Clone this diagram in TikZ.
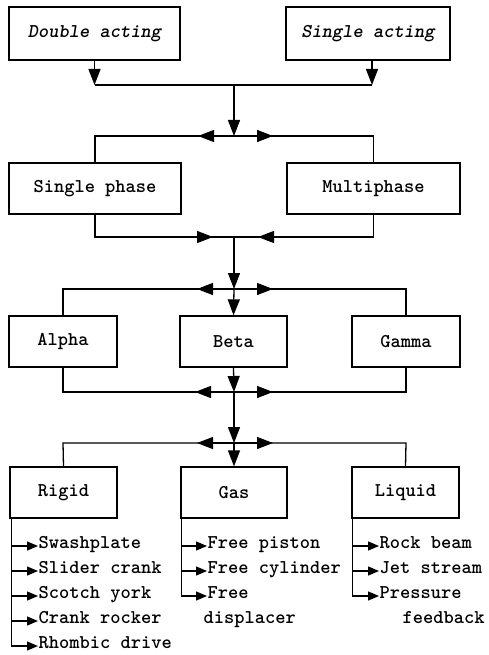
\documentclass[tikz,border=0pt]{standalone}
\usetikzlibrary{arrows.meta}
\begin{document}
\begin{tikzpicture}[x=1pt,y=-1pt,line width=1.3pt,
  box/.style={draw,rectangle,inner sep=0pt,font=\ttfamily\bfseries\fontsize{19.5}{22}\selectfont},
  item/.style={inner sep=0pt,anchor=west,text height=0.62em,text depth=0.18em,font=\ttfamily\bfseries\fontsize{19.5}{22}\selectfont},
  tri/.style={-{Triangle[length=16pt,width=12pt]}},
  stri/.style={-{Triangle[length=11pt,width=9pt]}}]
\useasboundingbox (0,0) rectangle (488,655);
% boxes
\node[box,minimum width=171,minimum height=53] (da) at (94.5,33.5) {\itshape Double acting};
\node[box,minimum width=164,minimum height=53] (sa) at (368,33.5) {\itshape Single acting};
\node[box,minimum width=172,minimum height=51] (sp) at (95,188.5) {Single phase};
\node[box,minimum width=173,minimum height=51] (mp) at (373.5,188.5) {Multiphase};
\node[box,minimum width=108,minimum height=51] (al) at (63,341.5) {Alpha};
\node[box,minimum width=107,minimum height=51] (be) at (233.5,341.5) {Beta};
\node[box,minimum width=108,minimum height=51] (ga) at (406,341.5) {Gamma};
\node[box,minimum width=107,minimum height=51] (ri) at (63.5,492.5) {Rigid};
\node[box,minimum width=106,minimum height=51] (gs) at (234,492.5) {Gas};
\node[box,minimum width=107,minimum height=51] (li) at (405.5,492.5) {Liquid};
% level 1
\coordinate (l1) at (94.5,85); \coordinate (r1) at (372,85); \coordinate (c1) at (234,85);
\draw[tri] (da.south) -- (l1);
\draw[tri] ([xshift=4pt]sa.south) -- (r1);
\draw (l1) -- (r1);
% level 2
\coordinate (c2) at (234,136); \coordinate (l2) at (95,136); \coordinate (r2) at (373.5,136);
\coordinate (t2a) at (198,136); \coordinate (t2b) at (273,136);
\draw[tri] (c1) -- (c2);
\draw (sp.north) -- (l2) -- (r2) -- (mp.north);
\draw[tri] (c2) -- (t2a);
\draw[tri] (c2) -- (t2b);
% level 3
\coordinate (c3) at (234,237); \coordinate (l3) at (95,237); \coordinate (r3) at (373.5,237);
\coordinate (t3a) at (213,237); \coordinate (t3b) at (258,237);
\draw (sp.south) -- (l3) -- (r3) -- (mp.south);
\draw[tri] (l3) -- (t3a);
\draw[tri] (r3) -- (t3b);
% level 4
\coordinate (c4) at (234,289); \coordinate (l4) at (63,289); \coordinate (r4) at (406,289);
\coordinate (t4a) at (197,289); \coordinate (t4b) at (273,289);
\draw[tri] (c3) -- (c4);
\draw (al.north) -- (l4) -- (r4) -- (ga.north);
\draw[tri] (c4) -- (t4a);
\draw[tri] (c4) -- (t4b);
\draw[tri] (c4) -- (be.north);
% level 5
\coordinate (c5) at (234,392); \coordinate (l5) at (63,392); \coordinate (r5) at (406,392);
\coordinate (t5a) at (195,392); \coordinate (t5b) at (273,392);
\draw (al.south) -- (l5) -- (r5) -- (ga.south);
\draw[tri] (be.south) -- (c5);
\draw[tri] (c5) -- (t5a);
\draw[tri] (c5) -- (t5b);
% level 6
\coordinate (c6) at (234,443); \coordinate (l6) at (63,443); \coordinate (r6) at (406,443);
\coordinate (t6a) at (197,443); \coordinate (t6b) at (273,443);
\draw[tri] (c5) -- (c6);
\draw (ri.north) -- (l6) -- (r6) -- (li.north);
\draw[tri] (c6) -- (t6a);
\draw[tri] (c6) -- (t6b);
\draw[tri] (c6) -- (gs.north);
% lists
\coordinate (rk) at ([xshift=2pt]ri.south west);
\coordinate (gk) at ([xshift=1pt]gs.south west);
\coordinate (lk) at ([xshift=1pt]li.south west);
\node[item] (r1) at (38,546) {Swashplate};
\node[item] (r2) at (38,571) {Slider crank};
\node[item] (r3) at (38,596) {Scotch york};
\node[item] (r4) at (38,621) {Crank rocker};
\node[item] (r5) at (38,646) {Rhombic drive};
\draw (rk) -- (rk |- r5.west);
\foreach \i in {1,...,5} \draw[stri] (rk |- r\i.west) -- (r\i.west);
\node[item] (g1) at (207,546) {Free piston};
\node[item] (g2) at (207,571) {Free cylinder};
\node[item] (g3) at (207,596) {Free};
\node[item] (g4) at (203,621) {displacer};
\draw (gk) -- (gk |- g3.west);
\foreach \i in {1,2,3} \draw[stri] (gk |- g\i.west) -- (g\i.west);
\node[item] (q1) at (379,546) {Rock beam};
\node[item] (q2) at (379,571) {Jet stream};
\node[item] (q3) at (379,596) {Pressure};
\node[item] (q4) at (402,621) {feedback};
\draw (lk) -- (lk |- q3.west);
\foreach \i in {1,2,3} \draw[stri] (lk |- q\i.west) -- (q\i.west);
\end{tikzpicture}
\end{document}
